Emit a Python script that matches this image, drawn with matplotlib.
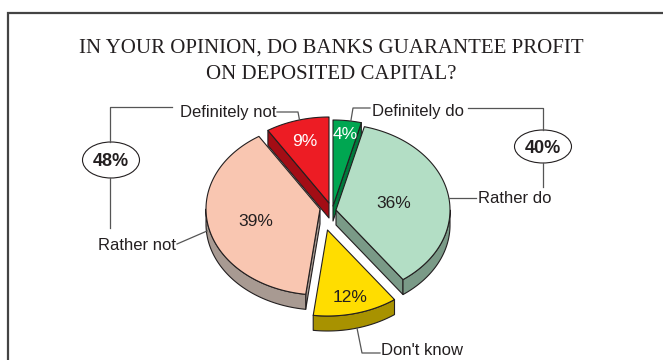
import numpy as np
import matplotlib.pyplot as plt
from matplotlib.patches import Polygon, Ellipse

plt.rcParams['font.family'] = ['Liberation Sans', 'DejaVu Sans']

# ---------------------------------------------
# data
# ---------------------------------------------
categories = ["Definitely do", "Rather do", "Don't know", "Rather not", "Definitely not"]
shares = [4, 36, 12, 39, 9]
title_lines = ["IN YOUR OPINION, DO BANKS GUARANTEE PROFIT", "ON DEPOSITED CAPITAL?"]

# ---------------------------------------------
# style
# ---------------------------------------------
top_colors = ["#00a651", "#b3dec5", "#ffdd00", "#f9c6b1", "#ed1c24"]
side_colors = ["#007a3c", "#7a9a87", "#a89200", "#a89a92", "#a30d15"]
pct_colors = ["white", "#231f20", "#231f20", "#231f20", "white"]
explode_px = [(3, -1), (6, 3), (-2.5, 23), (-10, 2), (-1, -4)]
label_frac = [0.86, 0.52, 0.79, 0.58, 0.77]

W, H = 663, 360
CX, CY, RX, RY, DEPTH = 330, 207, 114, 86, 15
EDGE = "#231f20"
LW = 0.8

fig = plt.figure(figsize=(W / 100, H / 100), dpi=100)
ax = fig.add_axes([0, 0, 1, 1])
ax.set_xlim(0, W)
ax.set_ylim(H, 0)
ax.axis('off')

# frame (left + top only)
ax.plot([7.5, 7.5, W], [H, 12.5, 12.5], color='#444444', lw=1.6, solid_joinstyle='miter')

for k, line in enumerate(title_lines):
    ax.text(W / 2, 53 + k * 26, line, ha='center', va='baseline', fontsize=15,
            family='Liberation Serif', color='#231f20')


def arc(tx, ty, t, drop=0.0):
    t = np.radians(t)
    return tx + RX * np.sin(t), ty - RY * np.cos(t) + drop


def poly(pts, fc):
    ax.add_patch(Polygon(pts, closed=True, fc=fc, ec=EDGE, lw=LW, joinstyle='round'))


bounds = np.concatenate([[0], np.cumsum(shares)]) / sum(shares) * 360
slices = []
for i in range(len(shares)):
    tx, ty = CX + explode_px[i][0], CY + explode_px[i][1]
    slices.append((i, bounds[i], bounds[i + 1], tx, ty))

# back slices first
order = sorted(slices, key=lambda s: np.cos(np.radians((s[1] + s[2]) / 2)), reverse=True)
for i, t1, t2, tx, ty in order:
    # radial cut faces
    for t, vis in ((t1, np.sin(np.radians(t1)) < -1e-9), (t2, np.sin(np.radians(t2)) > 1e-9)):
        if vis:
            ex, ey = arc(tx, ty, t)
            poly([(tx, ty), (ex, ey), (ex, ey + DEPTH), (tx, ty + DEPTH)], side_colors[i])
    # outer wall, front half only
    a, b = max(t1, 90), min(t2, 270)
    if a < b:
        xs, ys = arc(tx, ty, np.linspace(a, b, 80))
        poly(np.column_stack([np.r_[xs, xs[::-1]], np.r_[ys, ys[::-1] + DEPTH]]), side_colors[i])
    # top face
    xs, ys = arc(tx, ty, np.linspace(t1, t2, 120))
    poly(np.column_stack([np.r_[tx, xs], np.r_[ty, ys]]), top_colors[i])
    # percentage
    tm = (t1 + t2) / 2
    lx = tx + label_frac[i] * RX * np.sin(np.radians(tm))
    ly = ty - label_frac[i] * RY * np.cos(np.radians(tm))
    ax.text(lx, ly + 6.2, f"{shares[i]}%", ha='center', va='baseline', fontsize=12.5,
            color=pct_colors[i])

# ---------------------------------------------
# category labels + leader lines
# ---------------------------------------------
lkw = dict(color='#555555', lw=0.9)
tkw = dict(fontsize=12, color='#231f20', va='baseline')
s = {sl[0]: sl for sl in slices}

# Definitely not
_, _, _, tx, ty = s[4]
ax_, ay_ = arc(tx, ty, 345)
ax.plot([ax_, 298, 277], [ay_, 112, 112], **lkw)
ax.text(276, 117, categories[4], ha='right', **tkw)

# Definitely do
_, _, _, tx, ty = s[0]
ax_, ay_ = arc(tx, ty, 9)
ax.plot([ax_, 353, 370], [ay_, 108, 108], **lkw)
ax.text(372, 116, categories[0], ha='left', **tkw)

# Rather do
_, _, _, tx, ty = s[1]
ax_, ay_ = arc(tx, ty, 82)
ax.plot([ax_, 476], [ay_, ay_], **lkw)
ax.text(478, 203, categories[1], ha='left', **tkw)

# Don't know
_, _, _, tx, ty = s[2]
ax_, ay_ = arc(tx, ty, 165, DEPTH)
ax.plot([ax_, 362, 380], [ay_, 353, 353], **lkw)
ax.text(381, 355, categories[2], ha='left', **tkw)

# Rather not
_, _, _, tx, ty = s[3]
ax_, ay_ = arc(tx, ty, 262, 10)
ax.plot([ax_, 177], [ay_, 244], **lkw)
ax.text(176, 250, categories[3], ha='right', **tkw)

# group totals
do_total = shares[0] + shares[1]
not_total = shares[3] + shares[4]

ax.plot([468, 543, 543], [108, 108, 130], **lkw)
ax.plot([543, 543], [163, 187], **lkw)
ax.add_patch(Ellipse((543, 146.5), 57, 33, fc='white', ec=EDGE, lw=LW))
ax.text(543, 146.5 + 6.5, f"{do_total}%", ha='center', va='baseline', fontsize=13,
        fontweight='bold', color='#231f20')

ax.plot([172, 110, 110], [107, 107, 142], **lkw)
ax.plot([110, 110], [178, 228], **lkw)
ax.add_patch(Ellipse((111, 160), 57, 36, fc='white', ec=EDGE, lw=LW))
ax.text(111, 160 + 6.5, f"{not_total}%", ha='center', va='baseline', fontsize=13,
        fontweight='bold', color='#231f20')

fig.savefig('out.png', dpi=100)
